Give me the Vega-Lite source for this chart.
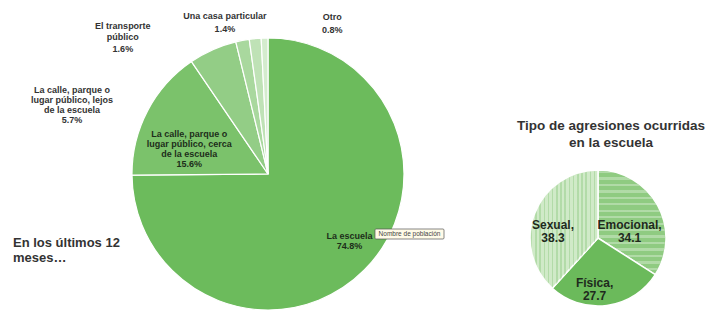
{
  "$schema": "https://vega.github.io/schema/vega-lite/v6.json",
  "width": 709,
  "height": 324,
  "autosize": {"type": "none"},
  "padding": 0,
  "background": "white",
  "config": {"view": {"stroke": null}, "font": "Liberation Sans"},
  "datasets": {
    "lugares": [
      {"lugar": "La escuela", "pct": 74.8, "orden": 1, "etiqueta": "La escuela\n74.8%"},
      {"lugar": "La calle, parque o lugar público, cerca de la escuela", "pct": 15.6, "orden": 2, "etiqueta": "La calle, parque o\nlugar público, cerca\nde la escuela\n15.6%"},
      {"lugar": "La calle, parque o lugar público, lejos de la escuela", "pct": 5.7, "orden": 3, "etiqueta": "La calle, parque o\nlugar público, lejos\nde la escuela\n5.7%"},
      {"lugar": "El transporte público", "pct": 1.6, "orden": 4, "etiqueta": "El transporte\npúblico\n1.6%"},
      {"lugar": "Una casa particular", "pct": 1.4, "orden": 5, "etiqueta": "Una casa particular\n1.4%"},
      {"lugar": "Otro", "pct": 0.8, "orden": 6, "etiqueta": "Otro\n0.8%"}
    ],
    "agresiones": [
      {"tipo": "Emocional", "pct": 34.1, "orden": 1, "etiqueta": "Emocional,\n34.1"},
      {"tipo": "Física", "pct": 27.7, "orden": 2, "etiqueta": "Física,\n27.7"},
      {"tipo": "Sexual", "pct": 38.3, "orden": 3, "etiqueta": "Sexual,\n38.3"}
    ],
    "notas": [
      {"nota": "En los últimos 12\nmeses…", "titulo": "Tipo de agresiones ocurridas\nen la escuela", "aviso": "Nombre de población"}
    ]
  },
  "layer": [
    {
      "data": {"name": "lugares"},
      "encoding": {
        "x": {"datum": 268, "type": "quantitative", "scale": {"domain": [0, 709], "nice": false, "zero": false}, "axis": null},
        "y": {"datum": 174, "type": "quantitative", "scale": {"domain": [0, 324], "nice": false, "zero": false, "reverse": true}, "axis": null},
        "theta": {"field": "pct", "type": "quantitative", "stack": true},
        "order": {"field": "orden", "type": "quantitative"}
      },
      "layer": [
        {
          "mark": {"type": "arc", "outerRadius": 136, "stroke": "white", "strokeWidth": 1.2},
          "encoding": {
            "color": {
              "field": "lugar", "type": "nominal", "legend": null,
              "scale": {
                "domain": ["La escuela", "La calle, parque o lugar público, cerca de la escuela", "La calle, parque o lugar público, lejos de la escuela", "El transporte público", "Una casa particular", "Otro"],
                "range": ["#6cbb5c", "#7bc26b", "#93cd86", "#a9d89e", "#bfe2b6", "#d4ecce"]
              }
            }
          }
        },
        {
          "mark": {"type": "text", "radius": 105, "dx": 7, "dy": -12, "fontSize": 9, "fontWeight": "bold", "lineBreak": "\n", "lineHeight": 10, "color": "#1d2e1a"},
          "encoding": {"detail": {"field": "lugar"}, "text": {"condition": {"test": "datum.orden === 1", "field": "etiqueta"}, "value": ""}}
        },
        {
          "mark": {"type": "text", "radius": 90, "dx": 1, "dy": 2, "fontSize": 9, "fontWeight": "bold", "lineBreak": "\n", "lineHeight": 10, "color": "#1d2e1a"},
          "encoding": {"detail": {"field": "lugar"}, "text": {"condition": {"test": "datum.orden === 2", "field": "etiqueta"}, "value": ""}}
        },
        {
          "mark": {"type": "text", "radius": 150, "dx": -135, "dy": 53, "fontSize": 9, "fontWeight": "bold", "lineBreak": "\n", "lineHeight": 10, "color": "#333333"},
          "encoding": {"detail": {"field": "lugar"}, "text": {"condition": {"test": "datum.orden === 3", "field": "etiqueta"}, "value": ""}}
        },
        {
          "mark": {"type": "text", "radius": 150, "dx": -117, "dy": -1, "fontSize": 9, "fontWeight": "bold", "lineBreak": "\n", "lineHeight": 11.5, "color": "#333333"},
          "encoding": {"detail": {"field": "lugar"}, "text": {"condition": {"test": "datum.orden === 4", "field": "etiqueta"}, "value": ""}}
        },
        {
          "mark": {"type": "text", "radius": 150, "dx": -29, "dy": -9, "fontSize": 9, "fontWeight": "bold", "lineBreak": "\n", "lineHeight": 13, "color": "#333333"},
          "encoding": {"detail": {"field": "lugar"}, "text": {"condition": {"test": "datum.orden === 5", "field": "etiqueta"}, "value": ""}}
        },
        {
          "mark": {"type": "text", "radius": 150, "dx": 68, "dy": -7, "fontSize": 9, "fontWeight": "bold", "lineBreak": "\n", "lineHeight": 13, "color": "#333333"},
          "encoding": {"detail": {"field": "lugar"}, "text": {"condition": {"test": "datum.orden === 6", "field": "etiqueta"}, "value": ""}}
        }
      ]
    },
    {
      "data": {"name": "agresiones"},
      "encoding": {
        "x": {"datum": 598, "type": "quantitative", "scale": {"domain": [0, 709], "nice": false, "zero": false}, "axis": null},
        "y": {"datum": 238, "type": "quantitative", "scale": {"domain": [0, 324], "nice": false, "zero": false, "reverse": true}, "axis": null},
        "theta": {"field": "pct", "type": "quantitative", "stack": true},
        "order": {"field": "orden", "type": "quantitative"}
      },
      "layer": [
        {
          "mark": {"type": "arc", "outerRadius": 68, "stroke": "white", "strokeWidth": 1.5},
          "encoding": {
            "color": {
              "field": "tipo", "type": "nominal", "legend": null,
              "scale": {"domain": ["Emocional", "Física", "Sexual"], "range": ["#8fcb81", "#6bba5b", "#d0eac8"]}
            }
          }
        },
        {
          "mark": {"type": "arc", "outerRadius": 67},
          "encoding": {
            "detail": {"field": "tipo"},
            "fill": {
              "condition": [
                {"test": "datum.tipo === 'Emocional'", "value": {"gradient": "linear", "x1": 0, "y1": 0, "x2": 0, "y2": 1, "stops": [
                  {"offset": 0, "color": "rgba(255,255,255,0.3)"}, {"offset": 0.022, "color": "rgba(255,255,255,0.3)"}, {"offset": 0.022, "color": "rgba(255,255,255,0)"}, {"offset": 0.0625, "color": "rgba(255,255,255,0)"},
                  {"offset": 0.0625, "color": "rgba(255,255,255,0.3)"}, {"offset": 0.0845, "color": "rgba(255,255,255,0.3)"}, {"offset": 0.0845, "color": "rgba(255,255,255,0)"}, {"offset": 0.125, "color": "rgba(255,255,255,0)"},
                  {"offset": 0.125, "color": "rgba(255,255,255,0.3)"}, {"offset": 0.147, "color": "rgba(255,255,255,0.3)"}, {"offset": 0.147, "color": "rgba(255,255,255,0)"}, {"offset": 0.1875, "color": "rgba(255,255,255,0)"},
                  {"offset": 0.1875, "color": "rgba(255,255,255,0.3)"}, {"offset": 0.2095, "color": "rgba(255,255,255,0.3)"}, {"offset": 0.2095, "color": "rgba(255,255,255,0)"}, {"offset": 0.25, "color": "rgba(255,255,255,0)"},
                  {"offset": 0.25, "color": "rgba(255,255,255,0.3)"}, {"offset": 0.272, "color": "rgba(255,255,255,0.3)"}, {"offset": 0.272, "color": "rgba(255,255,255,0)"}, {"offset": 0.3125, "color": "rgba(255,255,255,0)"},
                  {"offset": 0.3125, "color": "rgba(255,255,255,0.3)"}, {"offset": 0.3345, "color": "rgba(255,255,255,0.3)"}, {"offset": 0.3345, "color": "rgba(255,255,255,0)"}, {"offset": 0.375, "color": "rgba(255,255,255,0)"},
                  {"offset": 0.375, "color": "rgba(255,255,255,0.3)"}, {"offset": 0.397, "color": "rgba(255,255,255,0.3)"}, {"offset": 0.397, "color": "rgba(255,255,255,0)"}, {"offset": 0.4375, "color": "rgba(255,255,255,0)"},
                  {"offset": 0.4375, "color": "rgba(255,255,255,0.3)"}, {"offset": 0.4595, "color": "rgba(255,255,255,0.3)"}, {"offset": 0.4595, "color": "rgba(255,255,255,0)"}, {"offset": 0.5, "color": "rgba(255,255,255,0)"},
                  {"offset": 0.5, "color": "rgba(255,255,255,0.3)"}, {"offset": 0.522, "color": "rgba(255,255,255,0.3)"}, {"offset": 0.522, "color": "rgba(255,255,255,0)"}, {"offset": 0.5625, "color": "rgba(255,255,255,0)"},
                  {"offset": 0.5625, "color": "rgba(255,255,255,0.3)"}, {"offset": 0.5845, "color": "rgba(255,255,255,0.3)"}, {"offset": 0.5845, "color": "rgba(255,255,255,0)"}, {"offset": 0.625, "color": "rgba(255,255,255,0)"},
                  {"offset": 0.625, "color": "rgba(255,255,255,0.3)"}, {"offset": 0.647, "color": "rgba(255,255,255,0.3)"}, {"offset": 0.647, "color": "rgba(255,255,255,0)"}, {"offset": 0.6875, "color": "rgba(255,255,255,0)"},
                  {"offset": 0.6875, "color": "rgba(255,255,255,0.3)"}, {"offset": 0.7095, "color": "rgba(255,255,255,0.3)"}, {"offset": 0.7095, "color": "rgba(255,255,255,0)"}, {"offset": 0.75, "color": "rgba(255,255,255,0)"},
                  {"offset": 0.75, "color": "rgba(255,255,255,0.3)"}, {"offset": 0.772, "color": "rgba(255,255,255,0.3)"}, {"offset": 0.772, "color": "rgba(255,255,255,0)"}, {"offset": 0.8125, "color": "rgba(255,255,255,0)"},
                  {"offset": 0.8125, "color": "rgba(255,255,255,0.3)"}, {"offset": 0.8345, "color": "rgba(255,255,255,0.3)"}, {"offset": 0.8345, "color": "rgba(255,255,255,0)"}, {"offset": 0.875, "color": "rgba(255,255,255,0)"},
                  {"offset": 0.875, "color": "rgba(255,255,255,0.3)"}, {"offset": 0.897, "color": "rgba(255,255,255,0.3)"}, {"offset": 0.897, "color": "rgba(255,255,255,0)"}, {"offset": 0.9375, "color": "rgba(255,255,255,0)"},
                  {"offset": 0.9375, "color": "rgba(255,255,255,0.3)"}, {"offset": 0.9595, "color": "rgba(255,255,255,0.3)"}, {"offset": 0.9595, "color": "rgba(255,255,255,0)"}, {"offset": 1, "color": "rgba(255,255,255,0)"}
                ]}},
                {"test": "datum.tipo === 'Sexual'", "value": {"gradient": "linear", "x1": 0, "y1": 0, "x2": 1, "y2": 0, "stops": [
                  {"offset": 0, "color": "rgba(110,185,95,0.3)"}, {"offset": 0.022, "color": "rgba(110,185,95,0.3)"}, {"offset": 0.022, "color": "rgba(110,185,95,0)"}, {"offset": 0.0625, "color": "rgba(110,185,95,0)"},
                  {"offset": 0.0625, "color": "rgba(110,185,95,0.3)"}, {"offset": 0.0845, "color": "rgba(110,185,95,0.3)"}, {"offset": 0.0845, "color": "rgba(110,185,95,0)"}, {"offset": 0.125, "color": "rgba(110,185,95,0)"},
                  {"offset": 0.125, "color": "rgba(110,185,95,0.3)"}, {"offset": 0.147, "color": "rgba(110,185,95,0.3)"}, {"offset": 0.147, "color": "rgba(110,185,95,0)"}, {"offset": 0.1875, "color": "rgba(110,185,95,0)"},
                  {"offset": 0.1875, "color": "rgba(110,185,95,0.3)"}, {"offset": 0.2095, "color": "rgba(110,185,95,0.3)"}, {"offset": 0.2095, "color": "rgba(110,185,95,0)"}, {"offset": 0.25, "color": "rgba(110,185,95,0)"},
                  {"offset": 0.25, "color": "rgba(110,185,95,0.3)"}, {"offset": 0.272, "color": "rgba(110,185,95,0.3)"}, {"offset": 0.272, "color": "rgba(110,185,95,0)"}, {"offset": 0.3125, "color": "rgba(110,185,95,0)"},
                  {"offset": 0.3125, "color": "rgba(110,185,95,0.3)"}, {"offset": 0.3345, "color": "rgba(110,185,95,0.3)"}, {"offset": 0.3345, "color": "rgba(110,185,95,0)"}, {"offset": 0.375, "color": "rgba(110,185,95,0)"},
                  {"offset": 0.375, "color": "rgba(110,185,95,0.3)"}, {"offset": 0.397, "color": "rgba(110,185,95,0.3)"}, {"offset": 0.397, "color": "rgba(110,185,95,0)"}, {"offset": 0.4375, "color": "rgba(110,185,95,0)"},
                  {"offset": 0.4375, "color": "rgba(110,185,95,0.3)"}, {"offset": 0.4595, "color": "rgba(110,185,95,0.3)"}, {"offset": 0.4595, "color": "rgba(110,185,95,0)"}, {"offset": 0.5, "color": "rgba(110,185,95,0)"},
                  {"offset": 0.5, "color": "rgba(110,185,95,0.3)"}, {"offset": 0.522, "color": "rgba(110,185,95,0.3)"}, {"offset": 0.522, "color": "rgba(110,185,95,0)"}, {"offset": 0.5625, "color": "rgba(110,185,95,0)"},
                  {"offset": 0.5625, "color": "rgba(110,185,95,0.3)"}, {"offset": 0.5845, "color": "rgba(110,185,95,0.3)"}, {"offset": 0.5845, "color": "rgba(110,185,95,0)"}, {"offset": 0.625, "color": "rgba(110,185,95,0)"},
                  {"offset": 0.625, "color": "rgba(110,185,95,0.3)"}, {"offset": 0.647, "color": "rgba(110,185,95,0.3)"}, {"offset": 0.647, "color": "rgba(110,185,95,0)"}, {"offset": 0.6875, "color": "rgba(110,185,95,0)"},
                  {"offset": 0.6875, "color": "rgba(110,185,95,0.3)"}, {"offset": 0.7095, "color": "rgba(110,185,95,0.3)"}, {"offset": 0.7095, "color": "rgba(110,185,95,0)"}, {"offset": 0.75, "color": "rgba(110,185,95,0)"},
                  {"offset": 0.75, "color": "rgba(110,185,95,0.3)"}, {"offset": 0.772, "color": "rgba(110,185,95,0.3)"}, {"offset": 0.772, "color": "rgba(110,185,95,0)"}, {"offset": 0.8125, "color": "rgba(110,185,95,0)"},
                  {"offset": 0.8125, "color": "rgba(110,185,95,0.3)"}, {"offset": 0.8345, "color": "rgba(110,185,95,0.3)"}, {"offset": 0.8345, "color": "rgba(110,185,95,0)"}, {"offset": 0.875, "color": "rgba(110,185,95,0)"},
                  {"offset": 0.875, "color": "rgba(110,185,95,0.3)"}, {"offset": 0.897, "color": "rgba(110,185,95,0.3)"}, {"offset": 0.897, "color": "rgba(110,185,95,0)"}, {"offset": 0.9375, "color": "rgba(110,185,95,0)"},
                  {"offset": 0.9375, "color": "rgba(110,185,95,0.3)"}, {"offset": 0.9595, "color": "rgba(110,185,95,0.3)"}, {"offset": 0.9595, "color": "rgba(110,185,95,0)"}, {"offset": 1, "color": "rgba(110,185,95,0)"}
                ]}}
              ],
              "value": "transparent"
            }
          }
        },
        {
          "mark": {"type": "text", "radius": 36, "dx": 0, "dy": 4, "fontSize": 12, "fontWeight": "bold", "lineBreak": "\n", "lineHeight": 13, "color": "#1f2a1d"},
          "encoding": {"detail": {"field": "tipo"}, "text": {"condition": {"test": "datum.orden === 1", "field": "etiqueta"}, "value": ""}}
        },
        {
          "mark": {"type": "text", "radius": 50, "dx": -10, "dy": -5, "fontSize": 12, "fontWeight": "bold", "lineBreak": "\n", "lineHeight": 13, "color": "#1f2a1d"},
          "encoding": {"detail": {"field": "tipo"}, "text": {"condition": {"test": "datum.orden === 2", "field": "etiqueta"}, "value": ""}}
        },
        {
          "mark": {"type": "text", "radius": 45, "dx": -3, "dy": 3, "fontSize": 12, "fontWeight": "bold", "lineBreak": "\n", "lineHeight": 13, "color": "#1f2a1d"},
          "encoding": {"detail": {"field": "tipo"}, "text": {"condition": {"test": "datum.orden === 3", "field": "etiqueta"}, "value": ""}}
        }
      ]
    },
    {
      "data": {"name": "notas"},
      "mark": {"type": "text", "align": "left", "baseline": "middle", "fontSize": 13, "fontWeight": "bold", "lineBreak": "\n", "lineHeight": 15, "color": "#333333"},
      "encoding": {
        "x": {"datum": 13, "type": "quantitative", "scale": {"domain": [0, 709], "nice": false, "zero": false}, "axis": null},
        "y": {"datum": 243, "type": "quantitative", "scale": {"domain": [0, 324], "nice": false, "zero": false, "reverse": true}, "axis": null},
        "text": {"field": "nota"}
      }
    },
    {
      "data": {"name": "notas"},
      "mark": {"type": "text", "align": "center", "baseline": "middle", "fontSize": 13.5, "fontWeight": "bold", "lineBreak": "\n", "lineHeight": 17, "color": "#333333"},
      "encoding": {
        "x": {"datum": 611, "type": "quantitative", "scale": {"domain": [0, 709], "nice": false, "zero": false}, "axis": null},
        "y": {"datum": 126, "type": "quantitative", "scale": {"domain": [0, 324], "nice": false, "zero": false, "reverse": true}, "axis": null},
        "text": {"field": "titulo"}
      }
    },
    {
      "data": {"name": "notas"},
      "mark": {"type": "rect", "fill": "#fffbe8", "stroke": "#555555", "strokeWidth": 0.7, "cornerRadius": 1},
      "encoding": {
        "x": {"datum": 375, "type": "quantitative", "scale": {"domain": [0, 709], "nice": false, "zero": false}, "axis": null},
        "x2": {"datum": 444},
        "y": {"datum": 229, "type": "quantitative", "scale": {"domain": [0, 324], "nice": false, "zero": false, "reverse": true}, "axis": null},
        "y2": {"datum": 239}
      }
    },
    {
      "data": {"name": "notas"},
      "mark": {"type": "text", "align": "center", "baseline": "middle", "fontSize": 6.5, "color": "#444444"},
      "encoding": {
        "x": {"datum": 409.5, "type": "quantitative", "scale": {"domain": [0, 709], "nice": false, "zero": false}, "axis": null},
        "y": {"datum": 234, "type": "quantitative", "scale": {"domain": [0, 324], "nice": false, "zero": false, "reverse": true}, "axis": null},
        "text": {"field": "aviso"}
      }
    }
  ],
  "resolve": {"scale": {"theta": "independent", "color": "independent"}}
}
